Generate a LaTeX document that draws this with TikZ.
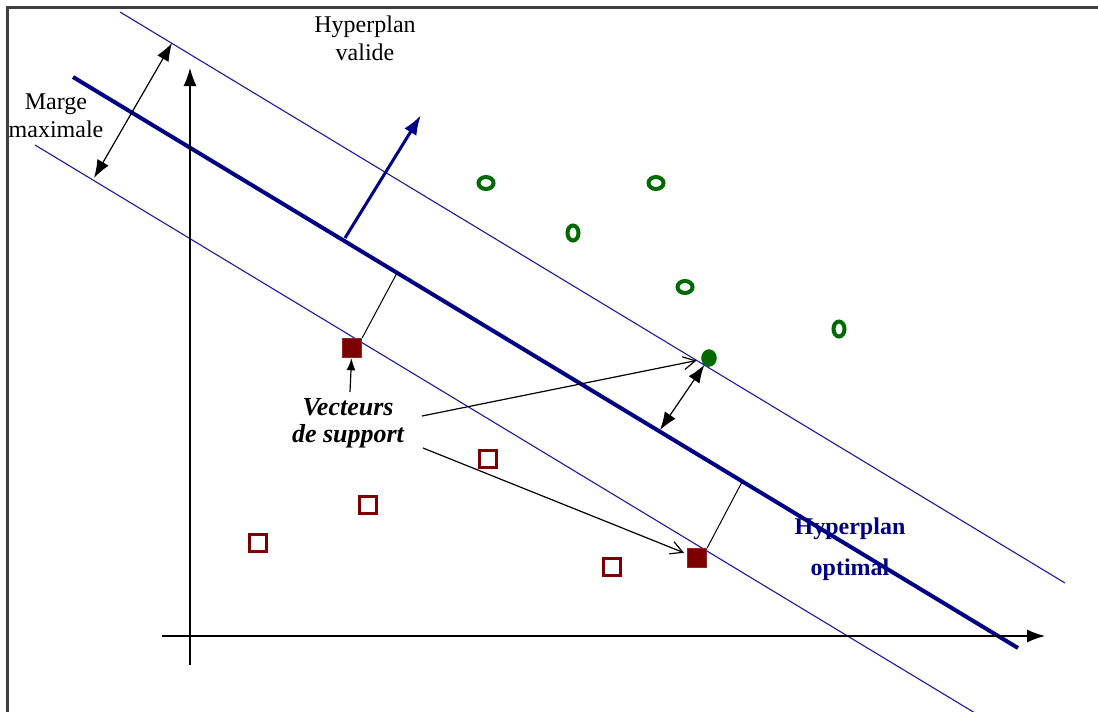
\documentclass[tikz,border=0pt]{standalone}
\usepackage{fontspec}
\setmainfont{Liberation Serif}
\usetikzlibrary{arrows.meta,shapes.geometric}
\definecolor{hypnavy}{RGB}{0,0,135}
\definecolor{margeblue}{RGB}{25,25,165}
\definecolor{posgreen}{RGB}{0,105,0}
\definecolor{negred}{RGB}{125,0,0}
\begin{document}
\begin{tikzpicture}[x=1pt, y=-1pt,
		poswide/.style={draw=posgreen, ellipse, line width=4pt, inner sep=0pt, minimum width=15pt, minimum height=12pt},
		postall/.style={draw=posgreen, ellipse, line width=4pt, inner sep=0pt, minimum width=11pt, minimum height=15pt},
		possv/.style={fill=posgreen, draw=posgreen, ellipse, inner sep=0pt, minimum width=15pt, minimum height=17pt},
		neg/.style={draw=negred, line width=3.5pt, inner sep=0pt, minimum size=17pt},
		negsv/.style={fill=negred, draw=negred!85!white, line width=1.5pt, inner sep=0pt, minimum size=19pt},
		label/.style={align=center, font=\fontsize{24}{28}\selectfont},
		marge/.style={line width=1.1pt, margeblue},
		tete/.tip={Latex[length=18pt, width=13pt]},
		fleche/.style={-tete, line width=1.2pt},
		dblfleche/.style={tete-tete, line width=1.2pt},
		renvoi/.style={-{Straight Barb[length=12pt, width=13pt]}, line width=1.2pt}]
		\useasboundingbox (0,0) rectangle (1098,712);
		\draw[line width=2.5pt, black!75] (7.5,712) -- (7.5,7.5) -- (1098,7.5);

		% hyperplans
		\coordinate (hA) at (73,77);
		\coordinate (hB) at (1018,648);
		\coordinate (upA) at (120,12);
		\coordinate (upB) at (1065,583);
		\coordinate (loA) at (35,145);
		\coordinate (loB) at (975,713);
		\draw[marge] (upA) -- (upB);
		\draw[marge] (loA) -- (loB);
		\draw[line width=4pt, hypnavy] (hA) -- (hB);

		% axes
		\coordinate (xA) at (162,636);
		\coordinate (xB) at (1045,636);
		\coordinate (yA) at (190,665);
		\coordinate (yB) at (190,68);
		\draw[fleche] (xA) -- (xB);
		\draw[fleche] (yA) -- (yB);

		\coordinate (nA) at (345,238);
		\coordinate (nB) at (421,115);
		\draw[-{Latex[length=20pt, width=14pt]}, line width=3pt, hypnavy] (nA) -- (nB);

		\coordinate (mA) at (94,178);
		\coordinate (mB) at (172,43);
		\draw[dblfleche] (mA) -- (mB);

		% points
		\node[poswide] (p1) at (486,183) {};
		\node[poswide] (p2) at (656,183) {};
		\node[postall] (p3) at (573,233) {};
		\node[poswide] (p4) at (685,287) {};
		\node[postall] (p5) at (839,329) {};
		\node[possv] (gsv) at (709,358) {};
		\node[neg] (n1) at (488,459) {};
		\node[neg] (n2) at (368,505) {};
		\node[neg] (n3) at (258,543) {};
		\node[neg] (n4) at (612,567) {};
		\node[negsv] (sv1) at (352,348) {};
		\node[negsv] (sv2) at (697,558) {};

		\coordinate (f1) at (397,273);
		\coordinate (f2) at (742,482);
		\coordinate (f3) at (660,430);
		\draw[line width=1pt] (sv1.north east) -- (f1);
		\draw[line width=1pt] (sv2.north east) -- (f2);
		\draw[dblfleche] (gsv) -- (f3);

		% textes
		\node[label] (valide) at (365,38) {Hyperplan\\valide};
		\node[label] (maxi) at (56,116) {Marge\\maximale};
		\node[align=center, font=\fontsize{26}{27}\selectfont\bfseries\itshape] (vect) at (348,423) {Vecteurs\\de support};
		\node[align=center, text=hypnavy, font=\fontsize{24}{41}\selectfont\bfseries] (optimal) at (850,549) {Hyperplan\\optimal};

		\coordinate (l1) at (422,416);
		\coordinate (l2) at (423,448);
		\coordinate (l3) at (350,392);
		\draw[renvoi, shorten >=5pt] (l1) -- (gsv);
		\draw[renvoi, shorten >=3pt] (l2) -- (sv2);
		\draw[-{Latex[length=12pt, width=9pt]}, line width=1.2pt] (l3) -- (sv1);
	\end{tikzpicture}
\end{document}
